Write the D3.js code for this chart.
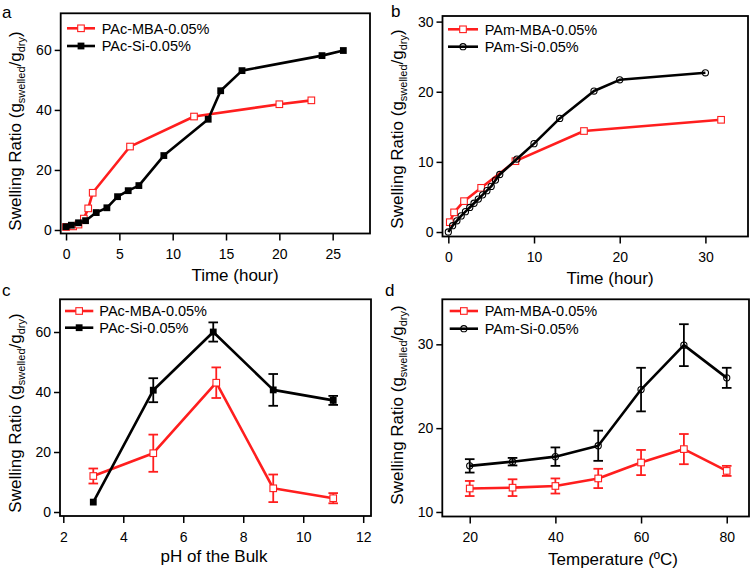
<!DOCTYPE html>
<html><head><meta charset="utf-8">
<script src="https://cdn.jsdelivr.net/npm/d3@7"></script>
<style>
body{margin:0;background:#fff}
svg{display:block}
text{font-family:"Liberation Sans",Arial,Helvetica,sans-serif;fill:#000}
</style>
</head><body>
<svg id="chart" width="756" height="572"></svg>
<script>
// ---------- DATA ----------
// Panel a : PAc, swelling vs time
const aMbaTime  = [0, 0.67, 1.17, 1.67, 2.08, 2.5, 6, 12, 20, 23];
const aMbaRatio = [1.0, 1.2, 1.8, 3.8, 7.2, 12.4, 27.8, 37.8, 41.9, 43.2];
const aSiTime   = [0, 0.5, 1.17, 1.83, 2.83, 3.83, 4.83, 5.83, 6.83, 9.17, 13.33, 14.5, 16.5, 24, 26];
const aSiRatio  = [1.1, 1.6, 2.4, 3.1, 5.8, 7.4, 11.1, 13.1, 14.8, 24.8, 36.9, 46.4, 53.1, 58.1, 59.8];
// Panel b : PAm, swelling vs time
const bMbaTime  = [0.17, 0.67, 1.83, 3.83, 7.83, 15.83, 31.83];
const bMbaRatio = [1.4, 2.8, 4.4, 6.3, 10.1, 14.4, 16.0];
const bSiTime   = [0, 0.5, 1, 1.5, 2, 2.5, 3, 3.5, 4, 4.5, 5, 5.5, 6, 8, 10, 13, 17, 20, 30];
const bSiRatio  = [0, 0.9, 1.6, 2.3, 2.9, 3.5, 4.1, 4.7, 5.3, 5.9, 6.5, 7.4, 8.2, 10.4, 12.6, 16.2, 20.1, 21.7, 22.7];
// Panel c : PAc, swelling vs pH
const cSiPH     = [3, 5, 7, 9, 11];
const cSiRatio  = [3.3, 40.6, 60.0, 40.7, 37.2];
const cSiErr    = [0, 4.0, 3.2, 5.3, 1.5];
const cMbaPH    = [3, 5, 7.1, 9, 11];
const cMbaRatio = [12.0, 19.6, 43.1, 7.9, 4.6];
const cMbaErr   = [2.5, 6.2, 5.1, 4.6, 1.7];
// Panel d : PAm, swelling vs temperature
const dTemp     = [20, 30, 40, 50, 60, 70, 80];
const dMbaRatio = [12.8, 12.9, 13.1, 14.0, 15.9, 17.5, 14.9];
const dMbaErr   = [0.9, 1.0, 0.9, 1.15, 1.5, 1.8, 0.6];
const dSiRatio  = [15.5, 16.0, 16.6, 17.9, 24.6, 29.9, 26.0];
const dSiErr    = [0.8, 0.45, 1.1, 1.8, 2.6, 2.5, 1.2];
// Tick values
const aXTicks = [0, 5, 10, 15, 20, 25],  aYTicks = [0, 20, 40, 60];
const bXTicks = [0, 10, 20, 30],         bYTicks = [0, 10, 20, 30];
const cXTicks = [2, 4, 6, 8, 10, 12],    cYTicks = [0, 20, 40, 60];
const dXTicks = [20, 40, 60, 80],        dYTicks = [10, 20, 30];
// Labels
const legendA = ["PAc-MBA-0.05%", "PAc-Si-0.05%"];
const legendB = ["PAm-MBA-0.05%", "PAm-Si-0.05%"];
const xTitles = ["Time (hour)", "Time (hour)", "pH of the Bulk", "Temperature (ºC)"];
const panelLetters = ["a", "b", "c", "d"];

// ---------- DRAWING ----------
const RED = "#ff1e1e", BLACK = "#000";
const svg = d3.select("#chart");

const panels = [
  { letter: panelLetters[0], lx: 2, ly: 18,
    box: [60.7, 13.3, 370, 233.5], xd: [-0.5, 28.5], yd: [-1.17, 72.2],
    xt: aXTicks, yt: aYTicks, xTitle: xTitles[0], xtx: 235, xty: 281, ytx: 21, yty: 131,
    leg: legendA, legX: [67, 95, 101.7], legY: [28.3, 46],
    series: [
      { x: aMbaTime, y: aMbaRatio, color: RED, marker: "osq" },
      { x: aSiTime, y: aSiRatio, color: BLACK, marker: "fsq" } ] },
  { letter: panelLetters[1], lx: 391, ly: 17,
    box: [442.5, 16, 748, 236.5], xd: [-0.68, 34.97], yd: [-0.64, 30.8],
    xt: bXTicks, yt: bYTicks, xTitle: xTitles[1], xtx: 610, xty: 284, ytx: 403, yty: 129,
    leg: legendB, legX: [448, 478, 484.7], legY: [29.3, 46.7],
    series: [
      { x: bMbaTime, y: bMbaRatio, color: RED, marker: "osq" },
      { x: bSiTime, y: bSiRatio, color: BLACK, marker: "ocirc" } ] },
  { letter: panelLetters[2], lx: 2, ly: 295.5,
    box: [60, 299.3, 371, 516], xd: [1.89, 12.26], yd: [-1.33, 70.9],
    xt: cXTicks, yt: cYTicks, xTitle: xTitles[2], xtx: 214, xty: 562, ytx: 21, yty: 413,
    leg: legendA, legX: [65, 93.3, 99.3], legY: [311, 327.7],
    series: [
      { x: cMbaPH, y: cMbaRatio, e: cMbaErr, color: RED, marker: "osq" },
      { x: cSiPH, y: cSiRatio, e: cSiErr, color: BLACK, marker: "fsq" } ] },
  { letter: panelLetters[3], lx: 385, ly: 296,
    box: [442.3, 299.3, 749, 516.5], xd: [13.6, 85.2], yd: [9.46, 35.37],
    xt: dXTicks, yt: dYTicks, xTitle: xTitles[3], xtx: 613, xty: 565, ytx: 403, yty: 405,
    leg: legendB, legX: [449.7, 478, 484.7], legY: [311, 328.7],
    series: [
      { x: dTemp, y: dMbaRatio, e: dMbaErr, color: RED, marker: "osq" },
      { x: dTemp, y: dSiRatio, e: dSiErr, color: BLACK, marker: "ocirc" } ] }
];

function drawMarker(g, type, color, cx, cy) {
  if (type === "osq") {
    g.append("rect").attr("x", cx - 3.3).attr("y", cy - 3.3).attr("width", 6.6).attr("height", 6.6)
      .attr("fill", "#fff").attr("stroke", color).attr("stroke-width", 1.1);
  } else if (type === "fsq") {
    g.append("rect").attr("x", cx - 3.4).attr("y", cy - 3.4).attr("width", 6.8).attr("height", 6.8)
      .attr("fill", color);
  } else {
    g.append("circle").attr("cx", cx).attr("cy", cy).attr("r", 3.1)
      .attr("fill", "none").attr("stroke", color).attr("stroke-width", 1.1);
  }
}

panels.forEach(p => {
  const [x0, y0, x1, y1] = p.box;
  const x = d3.scaleLinear().domain(p.xd).range([x0, x1]);
  const y = d3.scaleLinear().domain(p.yd).range([y1, y0]);
  const g = svg.append("g");

  // axes
  const xa = g.append("g").attr("transform", `translate(0,${y1})`)
    .call(d3.axisBottom(x).tickValues(p.xt).tickSize(7).tickPadding(9).tickFormat(d3.format("d")));
  const ya = g.append("g").attr("transform", `translate(${x0},0)`)
    .call(d3.axisLeft(y).tickValues(p.yt).tickSize(6).tickPadding(3).tickFormat(d3.format("d")));
  [xa, ya].forEach(a => {
    a.select(".domain").remove();
    a.selectAll("line").attr("stroke", "#000").attr("stroke-width", 1.5);
    a.selectAll("text").attr("font-size", 14).attr("font-family", '"Liberation Sans",Arial,sans-serif').attr("fill", "#000");
  });

  // frame
  g.append("rect").attr("x", x0).attr("y", y0).attr("width", x1 - x0).attr("height", y1 - y0)
    .attr("fill", "none").attr("stroke", "#000").attr("stroke-width", 1.8);

  // series
  const line = d3.line();
  p.series.forEach(s => {
    const pts = s.x.map((v, i) => [x(v), y(s.y[i])]);
    g.append("path").attr("d", line(pts)).attr("fill", "none")
      .attr("stroke", s.color).attr("stroke-width", 2.6).attr("stroke-linejoin", "round");
    if (s.e) {
      s.x.forEach((v, i) => {
        if (!s.e[i]) return;
        const cx = x(v), yt = y(s.y[i] + s.e[i]), yb = y(s.y[i] - s.e[i]);
        g.append("line").attr("x1", cx).attr("x2", cx).attr("y1", yt).attr("y2", yb)
          .attr("stroke", s.color).attr("stroke-width", 1.8);
        [yt, yb].forEach(yy => g.append("line").attr("x1", cx - 4.8).attr("x2", cx + 4.8)
          .attr("y1", yy).attr("y2", yy).attr("stroke", s.color).attr("stroke-width", 1.8));
      });
    }
    pts.forEach(pt => drawMarker(g, s.marker, s.color, pt[0], pt[1]));
  });

  // legend
  p.series.forEach((s, i) => {
    const ly = p.legY[i];
    g.append("line").attr("x1", p.legX[0]).attr("x2", p.legX[1]).attr("y1", ly).attr("y2", ly)
      .attr("stroke", s.color).attr("stroke-width", 2.6);
    drawMarker(g, s.marker, s.color, (p.legX[0] + p.legX[1]) / 2, ly);
    g.append("text").attr("x", p.legX[2]).attr("y", ly + 5.2).attr("font-size", 14.5).text(p.leg[i]);
  });

  // x title
  g.append("text").attr("x", p.xtx).attr("y", p.xty).attr("text-anchor", "middle")
    .attr("font-size", 17).text(p.xTitle);

  // y title
  const yt = g.append("text").attr("transform", `translate(${p.ytx},${p.yty}) rotate(-90)`)
    .attr("text-anchor", "middle").attr("font-size", 17);
  yt.append("tspan").text("Swelling Ratio (g");
  yt.append("tspan").attr("font-size", 11).attr("dy", 4).text("swelled");
  yt.append("tspan").attr("dy", -4).text("/g");
  yt.append("tspan").attr("font-size", 11).attr("dy", 4).text("dry");
  yt.append("tspan").attr("dy", -4).text(")");

  // panel letter
  g.append("text").attr("x", p.lx).attr("y", p.ly).attr("font-size", 17).text(p.letter);
});
</script>
</body></html>
